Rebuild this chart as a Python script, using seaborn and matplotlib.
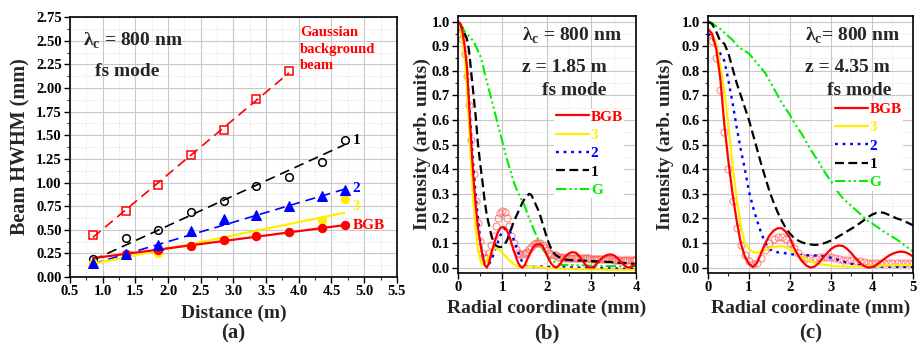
import numpy as np
import matplotlib
matplotlib.use("Agg")
import matplotlib.pyplot as plt
import seaborn as sns
from matplotlib.ticker import MultipleLocator, FormatStrFormatter

# ---------------- data: panel (a) beam HWHM vs distance ----------------
dist = [0.85, 1.35, 1.85, 2.35, 2.85, 3.35, 3.85, 4.35, 4.70]
hwhm_gauss = [0.45, 0.70, 0.97, 1.29, 1.56, 1.88, 2.18]
hwhm_1 = [0.19, 0.41, 0.50, 0.69, 0.81, 0.96, 1.06, 1.22, 1.45]
hwhm_2 = [0.15, 0.24, 0.34, 0.49, 0.61, 0.66, 0.75, 0.86, 0.92]
hwhm_3 = [0.15, 0.23, 0.26, 0.33, 0.39, 0.44, 0.48, 0.60, 0.83]
dist_bgb = [1.35, 1.85, 2.35, 2.85, 3.35, 3.85, 4.35, 4.70]
hwhm_bgb = [0.24, 0.29, 0.33, 0.39, 0.44, 0.48, 0.52, 0.55]

# linear fits (end points)
fit_x = [0.85, 4.70]
fit_x_gauss = [0.85, 3.85]
fit_gauss = [0.42, 2.16]
fit_1 = [0.18, 1.40]
fit_2 = [0.14, 0.93]
fit_3 = [0.14, 0.68]
fit_bgb = [0.20, 0.55]

# ---------------- data: panel (b) z = 1.85 m, r = 0 .. 4 mm step 0.05 ----------------
r_b = np.round(np.arange(0, 4.001, 0.05), 2)
bgb_b = [1.00, 0.99, 0.96, 0.90, 0.82, 0.66, 0.50, 0.36, 0.25, 0.16,
         0.10, 0.05, 0.01, 0.00, 0.02, 0.06, 0.09, 0.12, 0.145, 0.16,
         0.165, 0.163, 0.15, 0.13, 0.10, 0.07, 0.045, 0.02, 0.005, 0.00,
         0.01, 0.03, 0.05, 0.07, 0.085, 0.093, 0.095, 0.095, 0.088, 0.07,
         0.05, 0.03, 0.015, 0.005, 0.00, 0.005, 0.015, 0.03, 0.042, 0.052,
         0.058, 0.062, 0.062, 0.06, 0.052, 0.04, 0.027, 0.015, 0.006, 0.001,
         0.00, 0.004, 0.012, 0.022, 0.032, 0.04, 0.047, 0.051, 0.053, 0.053,
         0.05, 0.044, 0.035, 0.025, 0.015, 0.007, 0.002, 0.00, 0.003, 0.01,
         0.018]
beam3_b = [0.99, 0.97, 0.93, 0.85, 0.73, 0.57, 0.40, 0.26, 0.15, 0.07,
           0.03, 0.012, 0.015, 0.03, 0.05, 0.065, 0.075, 0.078, 0.075, 0.068,
           0.06, 0.05, 0.04, 0.03, 0.022, 0.014, 0.008, 0.004, 0.002, 0.002,
           0.004, 0.005, 0.006, 0.006, 0.005, 0.004, 0.003, 0.002, 0.00, -0.001,
           -0.002, -0.002, -0.003, -0.003, -0.003, -0.004, -0.004, -0.004, -0.005, -0.005,
           -0.005, -0.005, -0.006, -0.006, -0.006, -0.006, -0.007, -0.007, -0.007, -0.007,
           -0.008, -0.008, -0.008, -0.008, -0.008, -0.009, -0.009, -0.009, -0.009, -0.009,
           -0.01, -0.01, -0.01, -0.01, -0.01, -0.01, -0.01, -0.01, -0.01, -0.01,
           -0.01]
beam2_b = [0.97, 0.96, 0.93, 0.88, 0.80, 0.67, 0.53, 0.40, 0.29, 0.20,
           0.11, 0.05, 0.02, 0.01, 0.015, 0.03, 0.055, 0.08, 0.105, 0.13,
           0.148, 0.158, 0.16, 0.152, 0.135, 0.115, 0.09, 0.065, 0.04, 0.02,
           0.01, 0.006, 0.005, 0.005, 0.005, 0.005, 0.004, 0.004, 0.004, 0.004,
           0.003, 0.003, 0.003, 0.003, 0.002, 0.002, 0.002, 0.002, 0.001, 0.001,
           0.001, 0.001, 0.00, 0.00, 0.00, 0.00, 0.00, -0.001, -0.001, -0.001,
           -0.001, -0.002, -0.002, -0.002, -0.002, -0.003, -0.003, -0.003, -0.003, -0.004,
           -0.004, -0.004, -0.004, -0.005, -0.005, -0.005, -0.005, -0.005, -0.005, -0.005,
           -0.005]
beam1_b = [1.00, 0.99, 0.97, 0.95, 0.93, 0.88, 0.79, 0.70, 0.61, 0.50,
           0.42, 0.35, 0.27, 0.21, 0.17, 0.13, 0.105, 0.09, 0.085, 0.083,
           0.085, 0.095, 0.11, 0.135, 0.16, 0.185, 0.205, 0.225, 0.245, 0.265,
           0.28, 0.29, 0.30, 0.295, 0.275, 0.255, 0.235, 0.21, 0.18, 0.15,
           0.12, 0.095, 0.075, 0.06, 0.05, 0.045, 0.04, 0.035, 0.033, 0.032,
           0.031, 0.03, 0.03, 0.03, 0.029, 0.029, 0.028, 0.028, 0.027, 0.027,
           0.026, 0.026, 0.025, 0.025, 0.025, 0.024, 0.024, 0.023, 0.023, 0.022,
           0.022, 0.021, 0.02, 0.02, 0.019, 0.018, 0.017, 0.017, 0.016, 0.015,
           0.015]
gauss_b = [0.98, 0.98, 0.97, 0.96, 0.95, 0.94, 0.93, 0.92, 0.90, 0.88,
           0.86, 0.83, 0.79, 0.755, 0.72, 0.685, 0.65, 0.615, 0.58, 0.545,
           0.51, 0.475, 0.44, 0.41, 0.38, 0.35, 0.325, 0.305, 0.285, 0.27,
           0.25, 0.225, 0.20, 0.18, 0.155, 0.135, 0.115, 0.095, 0.08, 0.065,
           0.05, 0.04, 0.03, 0.025, 0.02, 0.015, 0.012, 0.011, 0.01, 0.01,
           0.01, 0.01, 0.01, 0.009, 0.009, 0.009, 0.009, 0.008, 0.008, 0.008,
           0.008, 0.008, 0.007, 0.007, 0.007, 0.007, 0.007, 0.006, 0.006, 0.006,
           0.006, 0.006, 0.006, 0.005, 0.005, 0.005, 0.005, 0.005, 0.005, 0.005,
           0.005]
meas_b = [0.98, 0.97, 0.93, 0.87, 0.78, 0.66, 0.52, 0.38, 0.27, 0.18,
          0.11, 0.06, 0.04, 0.04, 0.06, 0.09, 0.13, 0.17, 0.20, 0.22,
          0.23, 0.225, 0.20, 0.17, 0.13, 0.10, 0.075, 0.06, 0.055, 0.055,
          0.06, 0.065, 0.075, 0.085, 0.095, 0.10, 0.10, 0.098, 0.09, 0.08,
          0.07, 0.06, 0.055, 0.05, 0.05, 0.045, 0.045, 0.045, 0.04, 0.04,
          0.04, 0.04, 0.04, 0.04, 0.04, 0.04, 0.04, 0.038, 0.038, 0.037,
          0.036, 0.036, 0.035, 0.035, 0.035, 0.034, 0.034, 0.034, 0.033, 0.033,
          0.032, 0.032, 0.032, 0.031, 0.031, 0.031, 0.03, 0.03, 0.03, 0.03,
          0.03]

# ---------------- data: panel (c) z = 4.35 m, r = 0 .. 5 mm step 0.1 ----------------
r_c = np.round(np.arange(0, 5.001, 0.1), 1)
bgb_c = [0.97, 0.95, 0.89, 0.77, 0.58, 0.43, 0.30, 0.19, 0.10, 0.045,
         0.015, 0.003, 0.02, 0.06, 0.10, 0.13, 0.15, 0.16, 0.16, 0.145,
         0.12, 0.08, 0.05, 0.025, 0.008, 0.00, 0.004, 0.018, 0.038, 0.058,
         0.075, 0.086, 0.09, 0.087, 0.075, 0.058, 0.038, 0.02, 0.007, 0.00,
         0.002, 0.01, 0.022, 0.035, 0.047, 0.056, 0.062, 0.065, 0.063, 0.056,
         0.045]
beam3_c = [0.97, 0.95, 0.91, 0.82, 0.72, 0.57, 0.42, 0.28, 0.17, 0.10,
           0.075, 0.063, 0.06, 0.065, 0.07, 0.078, 0.083, 0.086, 0.087, 0.083,
           0.075, 0.065, 0.053, 0.042, 0.033, 0.025, 0.02, 0.015, 0.012, 0.01,
           0.008, 0.006, 0.005, 0.005, 0.004, 0.004, 0.005, 0.005, 0.006, 0.007,
           0.008, 0.008, 0.008, 0.009, 0.009, 0.009, 0.01, 0.01, 0.01, 0.01,
           0.01]
beam2_c = [0.95, 0.94, 0.90, 0.87, 0.84, 0.76, 0.67, 0.57, 0.48, 0.40,
           0.31, 0.245, 0.19, 0.14, 0.10, 0.075, 0.066, 0.062, 0.06, 0.058,
           0.055, 0.053, 0.052, 0.05, 0.05, 0.05, 0.049, 0.048, 0.046, 0.043,
           0.04, 0.036, 0.03, 0.025, 0.02, 0.015, 0.012, 0.01, 0.008, 0.006,
           0.005, 0.005, 0.004, 0.004, 0.004, 0.003, 0.003, 0.003, 0.003, 0.003,
           0.003]
beam1_c = [1.00, 0.99, 0.96, 0.92, 0.91, 0.87, 0.81, 0.75, 0.70, 0.65,
           0.60, 0.54, 0.48, 0.42, 0.365, 0.31, 0.265, 0.225, 0.19, 0.16,
           0.138, 0.12, 0.11, 0.102, 0.097, 0.094, 0.092, 0.093, 0.097, 0.103,
           0.11, 0.118, 0.128, 0.138, 0.148, 0.158, 0.168, 0.18, 0.192, 0.205,
           0.215, 0.222, 0.225, 0.222, 0.215, 0.208, 0.20, 0.195, 0.188, 0.18,
           0.172]
gauss_c = [1.00, 0.995, 0.98, 0.97, 0.955, 0.94, 0.925, 0.905, 0.89, 0.88,
           0.87, 0.85, 0.83, 0.81, 0.79, 0.76, 0.73, 0.70, 0.67, 0.645,
           0.62, 0.59, 0.565, 0.54, 0.51, 0.48, 0.455, 0.43, 0.40, 0.375,
           0.35, 0.325, 0.30, 0.28, 0.265, 0.25, 0.235, 0.22, 0.205, 0.19,
           0.18, 0.168, 0.157, 0.145, 0.135, 0.125, 0.115, 0.103, 0.09, 0.078,
           0.065]
meas_c = [0.95, 0.92, 0.85, 0.72, 0.55, 0.40, 0.27, 0.16, 0.09, 0.05,
          0.025, 0.015, 0.02, 0.04, 0.07, 0.10, 0.115, 0.125, 0.125, 0.115,
          0.10, 0.08, 0.06, 0.045, 0.04, 0.04, 0.04, 0.042, 0.045, 0.045,
          0.045, 0.04, 0.035, 0.032, 0.03, 0.03, 0.028, 0.025, 0.022, 0.02,
          0.02, 0.02, 0.02, 0.02, 0.02, 0.02, 0.02, 0.02, 0.02, 0.02,
          0.02]

RED, YEL, BLU, BLK, GRN = "#ff0000", "#ffee00", "#0000ff", "#000000", "#00ee00"

sns.set_theme(style="white")
plt.rcParams["font.family"] = ["Liberation Serif", "DejaVu Serif"]
plt.rcParams["font.weight"] = "bold"
plt.rcParams["axes.labelweight"] = "bold"
plt.rcParams["mathtext.fontset"] = "custom"
plt.rcParams["mathtext.bf"] = "Liberation Serif:bold"
plt.rcParams["mathtext.rm"] = "Liberation Serif:bold"
plt.rcParams["axes.edgecolor"] = "black"
plt.rcParams["axes.linewidth"] = 1.2


def style_axes(ax, xmaj, xmin, ymaj, ymin, xfmt, yfmt):
    ax.xaxis.set_major_locator(MultipleLocator(xmaj))
    ax.xaxis.set_minor_locator(MultipleLocator(xmin))
    ax.yaxis.set_major_locator(MultipleLocator(ymaj))
    ax.yaxis.set_minor_locator(MultipleLocator(ymin))
    ax.xaxis.set_major_formatter(FormatStrFormatter(xfmt))
    ax.yaxis.set_major_formatter(FormatStrFormatter(yfmt))
    ax.grid(which="major", color="#c8c8c8", lw=0.8)
    ax.grid(which="minor", color="#d8d8d8", lw=0.6, ls=":")
    ax.set_axisbelow(True)
    ax.tick_params(which="major", direction="out", length=4, width=1.0,
                   labelsize=10.5, colors="black", bottom=True, left=True, pad=2)
    ax.tick_params(which="minor", direction="out", length=2, width=0.8,
                   bottom=True, left=True)
    for lab in ax.get_xticklabels() + ax.get_yticklabels():
        lab.set_fontweight("bold")


def line(ax, x, y, color, ls="-", lw=1.5, label=None, **kw):
    sns.lineplot(x=x, y=y, ax=ax, color=color, linestyle=ls, lw=lw,
                 label=label, sort=False, errorbar=None, **kw)


fig = plt.figure(figsize=(9.18, 3.49), dpi=100)
ax_a = fig.add_axes([0.0763, 0.206, 0.356, 0.745])
ax_b = fig.add_axes([0.4989, 0.2178, 0.1939, 0.736])
ax_c = fig.add_axes([0.7712, 0.2178, 0.2233, 0.736])

# ---------------- panel (a) ----------------
dash_a = (0, (6, 3.5))
line(ax_a, fit_x_gauss, fit_gauss, RED, ls=dash_a, lw=1.2)
line(ax_a, fit_x, fit_1, BLK, ls=dash_a, lw=1.2)
line(ax_a, fit_x, fit_2, BLU, ls=dash_a, lw=1.2)
line(ax_a, fit_x, fit_3, YEL, lw=1.6)
line(ax_a, fit_x, fit_bgb, RED, lw=1.6)
line(ax_a, dist[:7], hwhm_gauss, RED, ls="none", marker="s", ms=5.5,
     markerfacecolor="none", markeredgecolor=RED, markeredgewidth=1.1)
line(ax_a, dist, hwhm_1, BLK, ls="none", marker="o", ms=5.5,
     markerfacecolor="none", markeredgecolor=BLK, markeredgewidth=1.1)
line(ax_a, dist, hwhm_3, YEL, ls="none", marker="o", ms=6,
     markerfacecolor=YEL, markeredgecolor=YEL)
line(ax_a, dist_bgb, hwhm_bgb, RED, ls="none", marker="o", ms=6,
     markerfacecolor=RED, markeredgecolor=RED)
line(ax_a, dist, hwhm_2, BLU, ls="none", marker="^", ms=6.5,
     markerfacecolor=BLU, markeredgecolor=BLU)

ax_a.set_xlim(0.5, 5.5)
ax_a.set_ylim(0, 2.75)
style_axes(ax_a, 0.5, 0.25, 0.25, 0.125, "%.1f", "%.2f")
ax_a.set_xlabel("Distance (m)", fontsize=14)
ax_a.set_ylabel("Beam HWHM (mm)", fontsize=14.5)
ax_a.xaxis.set_label_coords(0.5, -0.138)
ax_a.xaxis.label.set_va("center")
ax_a.yaxis.set_label_coords(-0.153, 0.5)
ax_a.yaxis.label.set_va("center")
ax_a.text(0.04, 0.91, r"λ$_\mathbf{c}$ = 800 nm", transform=ax_a.transAxes,
          fontsize=14, va="center", ha="left")
ax_a.text(0.174, 0.79, "fs mode", transform=ax_a.transAxes,
          fontsize=14, va="center", ha="center")
ax_a.text(0.703, 0.965, "Gaussian\nbackground\nbeam", transform=ax_a.transAxes,
          fontsize=10.5, va="top", ha="left", color=RED, linespacing=1.35)
for txt, yy, col in [("1", 0.527, BLK), ("2", 0.342, BLU),
                     ("3", 0.273, YEL), ("BGB", 0.20, RED)]:
    ax_a.text(0.865, yy, txt, transform=ax_a.transAxes, fontsize=11,
              va="center", ha="left", color=col)

# ---------------- panels (b) and (c) ----------------
dot_s = (0, (1.2, 2.0))
dash_s = (0, (4, 2))
dd_s = (0, (5, 1.5, 1, 1.5, 1, 1.5))


def profile_panel(ax, r, meas, gauss, b1, b2, b3, bgb, xmax, z_text, lam_text,
                  tx, leg_xy):
    line(ax, r, meas, RED, ls="none", marker="o", ms=5, alpha=0.6,
         markerfacecolor="none", markeredgecolor="#ff5050", markeredgewidth=0.9)
    line(ax, r, gauss, GRN, ls=dd_s, lw=1.5, label="G")
    line(ax, r, b1, BLK, ls=dash_s, lw=1.6, label="1")
    line(ax, r, b2, BLU, ls=dot_s, lw=1.7, label="2")
    line(ax, r, b3, YEL, lw=1.6, label="3")
    line(ax, r, bgb, RED, lw=1.6, label="BGB")
    ax.set_xlim(0, xmax)
    ax.set_ylim(-0.022, 1.022)
    style_axes(ax, 1, 0.5, 0.1, 0.05, "%d", "%.1f")
    ax.set_xlabel("Radial coordinate (mm)", fontsize=14)
    ax.set_ylabel("Intensity (arb. units)", fontsize=14)
    ax.xaxis.set_label_coords(0.5, -0.136)
    ax.xaxis.label.set_va("center")
    ax.text(tx, 0.922, lam_text, transform=ax.transAxes, fontsize=14,
            va="center", ha="left")
    ax.text(tx, 0.80, z_text, transform=ax.transAxes, fontsize=14,
            va="center", ha="left")
    ax.text(tx + 0.11, 0.71, "fs mode", transform=ax.transAxes, fontsize=14,
            va="center", ha="left")
    handles, labels = ax.get_legend_handles_labels()
    order = ["BGB", "3", "2", "1", "G"]
    hmap = dict(zip(labels, handles))
    leg = ax.legend([hmap[k] for k in order], order, loc="upper left",
                    bbox_to_anchor=leg_xy, fontsize=11, frameon=True,
                    facecolor="white", edgecolor="none", framealpha=1,
                    handlelength=2.2, handletextpad=0.1, labelspacing=0.3,
                    borderpad=0.1, borderaxespad=0)
    for t, c in zip(leg.get_texts(), [RED, YEL, BLU, BLK, GRN]):
        t.set_color(c)
        t.set_fontweight("bold")


profile_panel(ax_b, r_b, meas_b, gauss_b, beam1_b, beam2_b, beam3_b, bgb_b,
              4, "z = 1.85 m", r"λ$_\mathbf{c}$ = 800 nm", 0.36, (0.54, 0.64))
ax_b.yaxis.set_label_coords(-0.202, 0.5)
ax_b.yaxis.label.set_va("center")

profile_panel(ax_c, r_c, meas_c, gauss_c, beam1_c, beam2_c, beam3_c, bgb_c,
              5, "z = 4.35 m", r"λ$_\mathbf{c}$= 800 nm", 0.473, (0.61, 0.67))
ax_c.yaxis.set_label_coords(-0.21, 0.5)
ax_c.yaxis.label.set_va("center")

for x, s in [(0.2544, "(a)"), (0.5959, "(b)"), (0.883, "(c)")]:
    fig.text(x, 1 - 333 / 349, s, fontsize=15, ha="center", va="center",
             fontweight="bold")

fig.savefig("out.png", dpi=100)
